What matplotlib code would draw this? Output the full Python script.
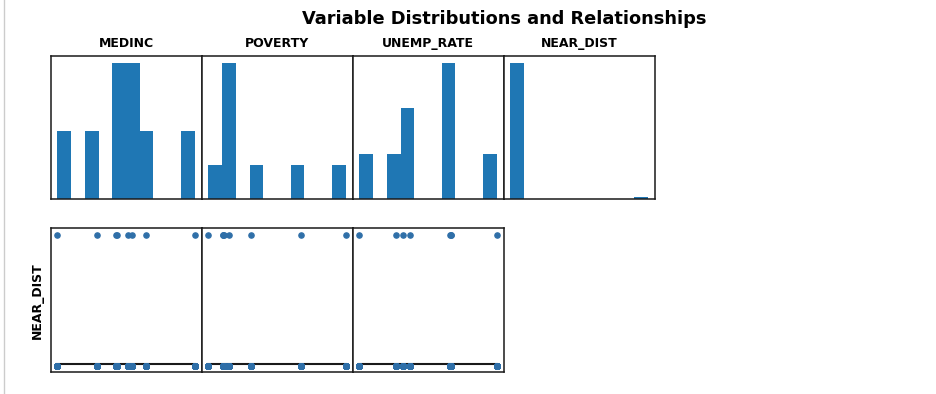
import numpy as np
import matplotlib
matplotlib.use("Agg")
from matplotlib import pyplot as plt
from matplotlib.lines import Line2D

# ==============================================================================
# DATA (one row per tract)
# ==============================================================================
medinc = [30000, 45700, 53500, 54000, 58300, 59900, 65700, 85000]
poverty = [5.0, 8.1, 8.3, 8.4, 9.6, 14.3, 25.2, 35.0]
unemp_rate = [2.5, 5.2, 5.7, 6.2, 9.1, 9.15, 9.2, 12.5]

# Each tract appears once far away and many times at distance zero.
near_dist_far = 1450.0
near_dist_close = 0.0
close_rows_per_tract = 75

variables = ["MEDINC", "POVERTY", "UNEMP_RATE", "NEAR_DIST"]
tract_values = {"MEDINC": medinc, "POVERTY": poverty, "UNEMP_RATE": unemp_rate}

# Build the long table: tract attributes repeated, NEAR_DIST far / close.
n_tracts = len(medinc)
columns = {}
for name, values in tract_values.items():
    columns[name] = np.concatenate([values, np.repeat(values, close_rows_per_tract)])
columns["NEAR_DIST"] = np.concatenate([
    np.full(n_tracts, near_dist_far),
    np.full(n_tracts * close_rows_per_tract, near_dist_close),
])

bar_color = "#1f77b4"

# ==============================================================================
# FIGURE
# ==============================================================================
fig = plt.figure(figsize=(9.36, 3.94), dpi=100)

ax_left = 50.5 / 936
ax_width = 151.0 / 936
row1_bottom = (394 - 199.3) / 394
row1_height = 143.6 / 394
row2_bottom = (394 - 372.3) / 394
row2_height = 144.0 / 394


def clean_axis(ax):
    ax.set_xticks([])
    ax.set_yticks([])
    for spine in ax.spines.values():
        spine.set_color("#1a1a1a")
        spine.set_linewidth(1.1)


# Row 1: histograms.
for i, name in enumerate(variables):
    ax = fig.add_axes([ax_left + i * ax_width, row1_bottom, ax_width, row1_height])
    ax.hist(columns[name], bins=10, color=bar_color)
    ax.set_title(name, fontsize=9, fontweight="bold", pad=6)
    clean_axis(ax)

# Row 2: NEAR_DIST against each attribute, with a fitted line.
y_all = columns["NEAR_DIST"]
for i, name in enumerate(variables[:3]):
    ax = fig.add_axes([ax_left + i * ax_width, row2_bottom, ax_width, row2_height])
    x_all = columns[name]
    ax.scatter(x_all, y_all, s=14, color="#2f6fa8", zorder=3)
    slope, intercept = np.polyfit(x_all, y_all, 1)
    x_line = np.array([x_all.min(), x_all.max()])
    ax.plot(x_line, slope * x_line + intercept, color="#1a1a1a", linewidth=1.5, zorder=2)
    if i == 0:
        ax.set_ylabel("NEAR_DIST", fontsize=9, fontweight="bold", labelpad=5)
    clean_axis(ax)

fig.suptitle("Variable Distributions and Relationships", x=504 / 936, y=0.975,
             fontsize=12.8, fontweight="bold")

# Light grey edge on the left of the picture.
fig.add_artist(Line2D([3.5 / 936, 3.5 / 936], [0, 1], transform=fig.transFigure,
                      color="#cccccc", linewidth=1.0))

fig.savefig("out.png", dpi=100)
